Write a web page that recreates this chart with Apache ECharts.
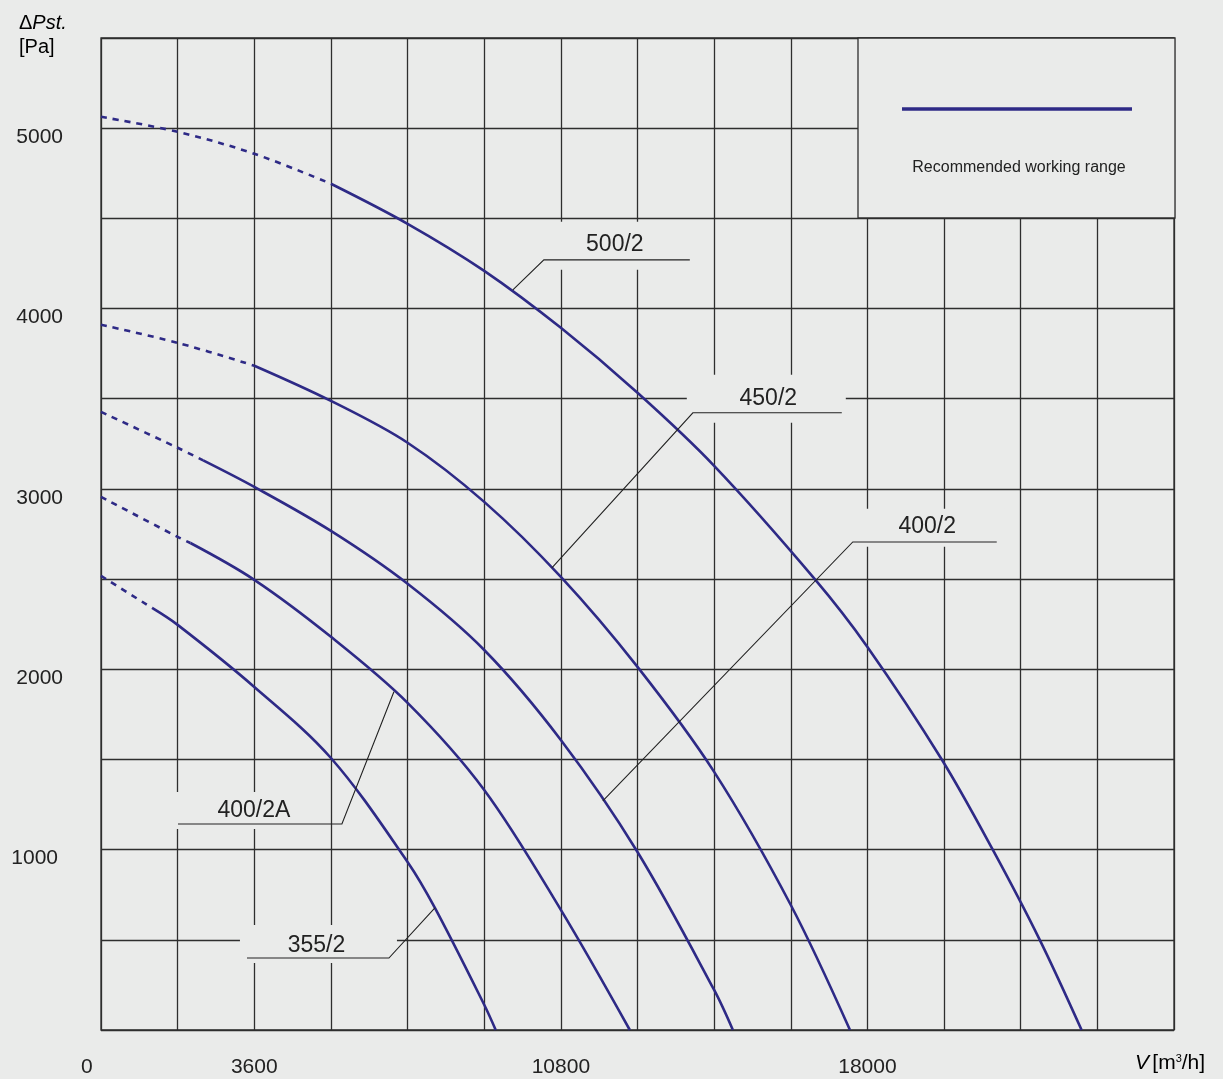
<!DOCTYPE html>
<html>
<head>
<meta charset="utf-8">
<script src="https://cdn.jsdelivr.net/npm/echarts@6/dist/echarts.min.js"></script>
<style>
  html, body { margin: 0; padding: 0; background: #eaebea; }
  #chart { width: 1223px; height: 1079px; }
</style>
</head>
<body>
<div id="chart"></div>
<script>
// Fan characteristic curves: static pressure ΔPst [Pa] against air flow V [m³/h]
const flow500 = [0, 1800, 3600, 5400, 7200, 9000, 10800, 12600, 14400, 16764, 18000, 19746, 20943, 22047, 23030];
const pst500  = [5063, 4980, 4858, 4692, 4470, 4209, 3893, 3533, 3128, 2500, 2124, 1500, 1000, 500, 0];
const dashEnd500 = 5400;

const flow450 = [0, 1800, 3600, 5400, 7200, 9000, 10800, 12600, 14400, 16200, 17590];
const pst450  = [3910, 3810, 3683, 3488, 3256, 2928, 2512, 2013, 1431, 693, 0];
const dashEnd450 = 3600;

const flow400 = [0, 1800, 2400, 3600, 5400, 7200, 9000, 10800, 12600, 14400, 14840];
const pst400  = [3427, 3228, 3158, 3011, 2767, 2474, 2107, 1608, 987, 222, 0];
const dashEnd400 = 2400;

const flow400A = [0, 1800, 2100, 3600, 5400, 7200, 9000, 10800, 12420];
const pst400A  = [2956, 2734, 2700, 2496, 2180, 1814, 1331, 666, 0];
const dashEnd400A = 2100;

const flow355 = [0, 1200, 1800, 3600, 5400, 7200, 7842, 9000, 9270];
const pst355  = [2518, 2340, 2246, 1902, 1508, 932, 677, 140, 0];
const dashEnd355 = 1200;

const curveNames  = ['500/2', '450/2', '400/2', '400/2A', '355/2'];
const xTickLabels = [0, 3600, 10800, 18000];
const yTickLabels = [1000, 2000, 3000, 4000, 5000];
const legendText  = 'Recommended working range';

// ---- styling ----
const BG = '#eaebea';
const INK = '#222222';
const GRIDLINE = '#2e2e2e';
const CURVE = '#2e2a86';
const FONT = '"Liberation Sans", Arial, Helvetica, sans-serif';
const SMOOTH = 0.34;

const fans = [
  { name: curveNames[0], flow: flow500,  pst: pst500,  dashEnd: dashEnd500 },
  { name: curveNames[1], flow: flow450,  pst: pst450,  dashEnd: dashEnd450 },
  { name: curveNames[2], flow: flow400,  pst: pst400,  dashEnd: dashEnd400 },
  { name: curveNames[3], flow: flow400A, pst: pst400A, dashEnd: dashEnd400A },
  { name: curveNames[4], flow: flow355,  pst: pst355,  dashEnd: dashEnd355 }
];

// Callout boxes (in axis units) with their leader lines; the box hides the grid behind the name
const callouts = [
  { name: curveNames[0], box: [12115, 4348], size: [154, 48], offset: [-2, -1],
    leader: [[9673, 4104], [10401, 4270], [13829, 4270]] },
  { name: curveNames[1], box: [15625, 3500], size: [159, 48], offset: [2, 0],
    leader: [[10589, 2562], [13900, 3422], [17398, 3422]] },
  { name: curveNames[2], box: [19405, 2784], size: [155, 38], offset: [0, -1],
    leader: [[11786, 1270], [17656, 2706], [21037, 2706]] },
  { name: curveNames[3], box: [3545, 1217], size: [156, 37], offset: [2, 0],
    leader: [[1808, 1142], [5658, 1142], [6879, 1875]] },
  { name: curveNames[4], box: [5107, 477], size: [157, 38], offset: [-2, 2],
    leader: [[3428, 399], [6762, 399], [7842, 677]] }
];

function points(fan, keep) {
  return fan.flow.map((x, i) => [x, fan.pst[i]]).filter(p => keep(p[0]));
}

const series = [];
fans.forEach(fan => {
  // unstable (dashed) part at low flow
  series.push({
    type: 'line', name: fan.name, silent: true, z: 2,
    data: points(fan, x => x <= fan.dashEnd),
    smooth: SMOOTH, symbol: 'none',
    lineStyle: { color: CURVE, width: 2.6, type: [6, 6] }
  });
  // recommended working range (solid)
  series.push({
    type: 'line', name: fan.name, silent: true, z: 2,
    data: points(fan, x => x >= fan.dashEnd),
    smooth: SMOOTH, symbol: 'none',
    lineStyle: { color: CURVE, width: 2.6 }
  });
});

series.push({
  type: 'scatter', name: 'callout', silent: true, z: 1,
  symbol: 'rect',
  data: callouts.map(c => ({
    name: c.name, value: c.box, symbolSize: c.size,
    label: { offset: c.offset }
  })),
  itemStyle: { color: BG, opacity: 1 },
  label: {
    show: true, position: 'inside', formatter: '{b}',
    color: INK, fontFamily: FONT, fontSize: 23
  }
});

series.push({
  type: 'lines', name: 'leader', silent: true, z: 3,
  coordinateSystem: 'cartesian2d', polyline: true,
  data: callouts.map(c => ({ coords: c.leader })),
  lineStyle: { color: INK, width: 1.1, opacity: 1 }
});

const chart = echarts.init(document.getElementById('chart'), null, { renderer: 'canvas' });
chart.setOption({
  backgroundColor: BG,
  animation: false,
  textStyle: { fontFamily: FONT },
  grid: {
    left: 101, right: 49, top: 38, bottom: 49,
    show: true, borderColor: GRIDLINE, borderWidth: 1.3, backgroundColor: 'transparent'
  },
  xAxis: {
    type: 'value', min: 0, max: 25200, interval: 1800,
    axisLine: { show: false }, axisTick: { show: false },
    splitLine: { show: true, lineStyle: { color: GRIDLINE, width: 1.3 } },
    axisLabel: {
      color: INK, fontSize: 21, fontFamily: FONT, margin: 37, verticalAlign: 'middle',
      formatter: v => xTickLabels.includes(v) ? (v === 0 ? '{z|0}' : String(v)) : '',
      rich: { z: { width: 40, align: 'left', fontSize: 21, fontFamily: FONT, color: INK } }
    }
  },
  yAxis: {
    type: 'value', min: 0, max: 5500, interval: 500,
    axisLine: { show: false }, axisTick: { show: false },
    splitLine: { show: true, lineStyle: { color: GRIDLINE, width: 1.3 } },
    axisLabel: {
      color: INK, fontSize: 21, fontFamily: FONT, margin: 38,
      verticalAlign: 'top', lineHeight: 18,
      formatter: v => yTickLabels.includes(v) ? (v === 1000 ? '{r|1000}' : String(v)) : '',
      rich: { r: { fontSize: 21, fontFamily: FONT, color: INK, lineHeight: 18, padding: [0, 5, 0, 0] } }
    }
  },
  graphic: [
    {
      type: 'text', left: 19, top: 13, z: 10,
      style: {
        text: '{n|Δ}{i|Pst.}\n{n|[Pa]}',
        rich: {
          n: { fontFamily: FONT, fontSize: 20, color: INK, lineHeight: 24 },
          i: { fontFamily: FONT, fontSize: 20, color: INK, fontStyle: 'italic', lineHeight: 24 }
        }
      }
    },
    {
      type: 'text', left: 1135, top: 1053, z: 10,
      style: {
        text: '{i|V} {n|[m}{s|3}{n|/h]}',
        rich: {
          i: { fontFamily: FONT, fontSize: 21, color: INK, fontStyle: 'italic', verticalAlign: 'bottom' },
          n: { fontFamily: FONT, fontSize: 21, color: INK, verticalAlign: 'bottom' },
          s: { fontFamily: FONT, fontSize: 11, color: INK, verticalAlign: 'top', padding: [0, 0, 10, 0] }
        }
      }
    },
    {
      type: 'group', z: 10,
      children: [
        {
          type: 'rect', z: 10,
          shape: { x: 858, y: 38, width: 317, height: 180 },
          style: { fill: BG, stroke: GRIDLINE, lineWidth: 1.3 }
        },
        {
          type: 'line', z: 11,
          shape: { x1: 902, y1: 109, x2: 1132, y2: 109 },
          style: { stroke: CURVE, lineWidth: 3.5 }
        },
        {
          type: 'text', z: 11, x: 1019, y: 168,
          style: {
            text: legendText, fill: INK, font: '16px ' + FONT,
            textAlign: 'center', textVerticalAlign: 'middle'
          }
        }
      ]
    }
  ],
  series: series
});
</script>
</body>
</html>
